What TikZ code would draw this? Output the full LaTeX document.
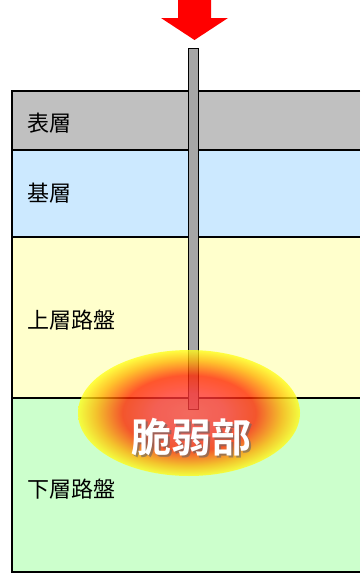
\documentclass[tikz,border=0pt]{standalone}
\usepackage{fontspec}
\newfontfamily\jp{Noto Sans CJK JP}
\newfontfamily\jpb{Noto Sans CJK JP Bold}
\usetikzlibrary{fadings}
\definecolor{lgrey}{HTML}{C0C0C0}
\definecolor{lblue}{HTML}{CCE9FF}
\definecolor{lyellow}{HTML}{FFFFCC}
\definecolor{lgreen}{HTML}{CCFFCC}
\definecolor{rodgrey}{HTML}{A6A6A6}
\definecolor{arrowred}{HTML}{FF0000}
\pgfdeclareradialshading{weakzone}{\pgfpoint{0bp}{0bp}}{%
  color(0bp)=(red!75!white);
  color(8bp)=(red!80!white);
  color(15bp)=(red!70!orange);
  color(21bp)=(orange!60!yellow);
  color(25bp)=(yellow!90!white);
  color(50bp)=(yellow!90!white)}
\begin{document}
\begin{tikzpicture}[x=1pt,y=-1pt,
  layerlabel/.style={anchor=west,inner sep=0pt,font=\jp\fontsize{22}{22}\selectfont},
  bound/.style={line width=2pt,black},
  rodstyle/.style={draw=black,line width=1pt,fill=rodgrey}]
\useasboundingbox (0,0) rectangle (360,573);
% layers
\fill[lgrey] (12,91) rectangle (360,150);
\fill[lblue] (12,150) rectangle (360,237);
\fill[lyellow] (12,237) rectangle (360,398);
\fill[lgreen] (12,398) rectangle (360,572);
\draw[bound] (12,150) -- (360,150);
\draw[bound] (12,237) -- (360,237);
\draw[bound] (12,398) -- (360,398);
\draw[line width=2.5pt] (360,91) -- (12,91) -- (12,572) -- (360,572);
% labels
\node[layerlabel] (l1) at (27,123) {表層};
\node[layerlabel] (l2) at (27,193) {基層};
\node[layerlabel] (l3) at (27,320) {上層路盤};
\node[layerlabel] (l4) at (27,489) {下層路盤};
% rod
\filldraw[rodstyle] (188,48) rectangle (198,409);
\coordinate (rodtop) at (193,48);
% arrow
\fill[arrowred] (178,0) -- (211,0) -- (211,18) -- (228,18) -- (194.5,40) -- (161,18) -- (178,18) -- cycle;
% weak zone
\begin{scope}[fill opacity=0.78]
\shade[shading=weakzone] (189,413) ellipse [x radius=111, y radius=63];
\end{scope}
\node[text=black!60,opacity=0.6,font=\jpb\fontsize{40}{40}\selectfont] (shadow) at (193,439) {脆弱部};
\node[text=white,font=\jpb\fontsize{40}{40}\selectfont] (weak) at (191,437) {脆弱部};
\end{tikzpicture}
\end{document}
